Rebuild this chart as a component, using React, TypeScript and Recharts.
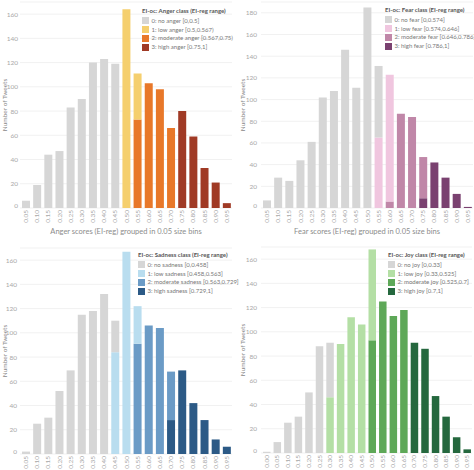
import { Bar, BarChart, CartesianGrid, Legend, XAxis, YAxis } from 'recharts'

// score bins, 0.05 wide
const bins = ['0.05', '0.10', '0.15', '0.20', '0.25', '0.30', '0.35', '0.40', '0.45', '0.50', '0.55', '0.60', '0.65', '0.70', '0.75', '0.80', '0.85', '0.90', '0.95']
const joyBins = ['0.00', '0.05', '0.10', '0.15', '0.20', '0.25', '0.30', '0.35', '0.40', '0.45', '0.50', '0.55', '0.60', '0.65', '0.70', '0.75', '0.80', '0.85', '0.90', '0.95']

const ticks170 = [0, 20, 40, 60, 80, 100, 120, 140, 160]
const ticks190 = [0, 20, 40, 60, 80, 100, 120, 140, 160, 180]

// tweet counts per bin, one list per ordinal class
const angerNo = [6, 19, 44, 47, 83, 90, 120, 123, 119, 0, 0, 0, 0, 0, 0, 0, 0, 0, 0]
const angerLow = [0, 0, 0, 0, 0, 0, 0, 0, 0, 164, 38, 0, 0, 0, 0, 0, 0, 0, 0]
const angerModerate = [0, 0, 0, 0, 0, 0, 0, 0, 0, 0, 73, 103, 98, 66, 0, 0, 0, 0, 0]
const angerHigh = [0, 0, 0, 0, 0, 0, 0, 0, 0, 0, 0, 0, 0, 0, 80, 59, 33, 21, 4]

const fearNo = [7, 28, 25, 44, 61, 102, 108, 146, 111, 185, 66, 0, 0, 0, 0, 0, 0, 0, 0]
const fearLow = [0, 0, 0, 0, 0, 0, 0, 0, 0, 0, 65, 117, 0, 0, 0, 0, 0, 0, 0]
const fearModerate = [0, 0, 0, 0, 0, 0, 0, 0, 0, 0, 0, 6, 87, 84, 38, 0, 0, 0, 0]
const fearHigh = [0, 0, 0, 0, 0, 0, 0, 0, 0, 0, 0, 0, 0, 0, 9, 42, 28, 13, 1]

const sadnessNo = [2, 25, 30, 52, 69, 115, 118, 132, 26, 0, 0, 0, 0, 0, 0, 0, 0, 0, 0]
const sadnessLow = [0, 0, 0, 0, 0, 0, 0, 0, 84, 167, 31, 0, 0, 0, 0, 0, 0, 0, 0]
const sadnessModerate = [0, 0, 0, 0, 0, 0, 0, 0, 0, 0, 91, 106, 104, 40, 0, 0, 0, 0, 0]
const sadnessHigh = [0, 0, 0, 0, 0, 0, 0, 0, 0, 0, 0, 0, 0, 28, 69, 42, 28, 12, 6]

const joyNo = [1, 9, 25, 30, 50, 88, 45, 0, 0, 0, 0, 0, 0, 0, 0, 0, 0, 0, 0, 0]
const joyLow = [0, 0, 0, 0, 0, 0, 46, 90, 112, 106, 75, 0, 0, 0, 0, 0, 0, 0, 0, 0]
const joyModerate = [0, 0, 0, 0, 0, 0, 0, 0, 0, 0, 93, 125, 113, 118, 0, 0, 0, 0, 0, 0]
const joyHigh = [0, 0, 0, 0, 0, 0, 0, 0, 0, 0, 0, 0, 0, 0, 91, 86, 47, 30, 13, 3]

const angerLabels = ['0: no anger [0,0.5]', '1: low anger [0.5,0.567)', '2: moderate anger [0.567,0.75)', '3: high anger [0.75,1]']
const fearLabels = ['0: no fear [0,0.574]', '1: low fear [0.574,0.646]', '2: moderate fear [0.646,0.786]', '3: high fear [0.786,1]']
const sadnessLabels = ['0: no sadness [0,0.458]', '1: low sadness [0.458,0.563]', '2: moderate sadness [0.563,0.729]', '3: high sadness [0.729,1]']
const joyLabels = ['0: no joy [0,0.33]', '1: low joy [0.33,0.525]', '2: moderate joy [0.525,0.7]', '3: high joy [0.7,1]']

const GRAY = '#d6d6d6'
const FONT = 'Lato, "Open Sans", sans-serif'

type PanelProps = {
  left: number
  top: number
  height: number
  bins: string[]
  classes: number[][]
  labels: string[]
  colors: string[]
  legendTitle: string
  legendLeft: number
  legendTop: number
  xTitle?: string
  yMax: number
  yTicks: number[]
  yWidth: number
  yTickMargin: number
  yTitleX: number
  marginRight: number
  barSize: number
}

function XTick({ x, y, payload }: any) {
  return (
    <text
      x={x}
      y={y}
      transform={`rotate(-90 ${x} ${y})`}
      textAnchor="end"
      dominantBaseline="central"
      fontSize={6.5}
      fill="#a8a8a8"
      fontFamily={FONT}
    >
      {payload.value}
    </text>
  )
}

function YTick({ x, y, payload }: any) {
  return (
    <text
      x={x}
      y={payload.value === 0 ? y - 3 : y}
      textAnchor="end"
      dominantBaseline="central"
      fontSize={6.5}
      fill="#a8a8a8"
      fontFamily={FONT}
    >
      {payload.value}
    </text>
  )
}

function YTitle({ viewBox, x0 }: any) {
  const cy = viewBox.y + viewBox.height / 2
  return (
    <text
      x={x0}
      y={cy}
      transform={`rotate(-90 ${x0} ${cy})`}
      textAnchor="middle"
      dominantBaseline="central"
      fontSize={6.5}
      fill="#888"
      fontFamily={FONT}
    >
      Number of Tweets
    </text>
  )
}

function Panel(p: PanelProps) {
  const rows = p.bins.map((bin, i) => ({
    bin,
    c0: p.classes[0][i],
    c1: p.classes[1][i],
    c2: p.classes[2][i],
    c3: p.classes[3][i]
  }))
  const xHeight = p.height - 2 - 206

  const legend = () => (
    <div style={{ fontFamily: FONT, lineHeight: 1 }}>
      <div style={{ fontSize: 6, fontWeight: 700, color: '#555', marginBottom: 2.5 }}>{p.legendTitle}</div>
      {p.labels.map((label, i) => (
        <div key={label} style={{ display: 'flex', alignItems: 'center', height: 8.8 }}>
          <span style={{ width: 7, height: 7, background: p.colors[i], marginRight: 2.5, flexShrink: 0 }} />
          <span style={{ fontSize: 6, color: '#777', whiteSpace: 'nowrap' }}>{label}</span>
        </div>
      ))}
    </div>
  )

  return (
    <div style={{ position: 'absolute', left: p.left, top: p.top }}>
      <BarChart
        width={237}
        height={p.height}
        data={rows}
        margin={{ top: 2, right: p.marginRight, left: 0, bottom: 0 }}
        barSize={p.barSize}
      >
        <CartesianGrid vertical={false} stroke="#f1f1f1" />
        <XAxis
          dataKey="bin"
          interval={0}
          axisLine={false}
          tickLine={false}
          tickSize={0}
          tickMargin={2}
          height={xHeight}
          tick={<XTick />}
          label={
            p.xTitle
              ? { value: p.xTitle, position: 'insideBottom', offset: 11, fontSize: 7.5, fill: '#8c8c8c', fontFamily: FONT }
              : undefined
          }
        />
        <YAxis
          domain={[0, p.yMax]}
          ticks={p.yTicks}
          interval={0}
          axisLine={false}
          tickLine={false}
          tickSize={0}
          tickMargin={p.yTickMargin}
          width={p.yWidth}
          tick={<YTick />}
          label={<YTitle x0={p.yTitleX} />}
        />
        <Legend
          layout="vertical"
          align="center"
          verticalAlign="middle"
          content={legend}
          wrapperStyle={{ left: p.legendLeft, top: p.legendTop, width: 100 }}
        />
        <Bar dataKey="c3" stackId="a" fill={p.colors[3]} isAnimationActive={false} />
        <Bar dataKey="c2" stackId="a" fill={p.colors[2]} isAnimationActive={false} />
        <Bar dataKey="c1" stackId="a" fill={p.colors[1]} isAnimationActive={false} />
        <Bar dataKey="c0" stackId="a" fill={p.colors[0]} isAnimationActive={false} />
      </BarChart>
    </div>
  )
}

export default function App() {
  return (
    <div style={{ position: 'absolute', left: 0, top: 0, width: 474, height: 470, overflow: 'hidden', background: '#fff' }}>
      <Panel
        left={0}
        top={0}
        height={245}
        bins={bins}
        classes={[angerNo, angerLow, angerModerate, angerHigh]}
        labels={angerLabels}
        colors={[GRAY, '#f5cf6e', '#e8782a', '#a03a25']}
        legendTitle="EI-oc: Anger class (EI-reg range)"
        legendLeft={142}
        legendTop={8}
        xTitle="Anger scores  (EI-reg) grouped in 0.05 size bins"
        yMax={170}
        yTicks={ticks170}
        yWidth={20}
        yTickMargin={2}
        yTitleX={4}
        marginRight={5}
        barSize={8}
      />
      <Panel
        left={237}
        top={0}
        height={245}
        bins={bins}
        classes={[fearNo, fearLow, fearModerate, fearHigh]}
        labels={fearLabels}
        colors={[GRAY, '#f0c6df', '#c087a8', '#7a4170']}
        legendTitle="EI-oc: Fear class (EI-reg range)"
        legendLeft={148}
        legendTop={7}
        xTitle="Fear scores  (EI-reg) grouped in 0.05 size bins"
        yMax={190}
        yTicks={ticks190}
        yWidth={24}
        yTickMargin={4}
        yTitleX={5}
        marginRight={1}
        barSize={8}
      />
      <Panel
        left={0}
        top={246}
        height={224}
        bins={bins}
        classes={[sadnessNo, sadnessLow, sadnessModerate, sadnessHigh]}
        labels={sadnessLabels}
        colors={[GRAY, '#b9ddef', '#6b9bc6', '#2c5a86']}
        legendTitle="EI-oc: Sadness class (EI-reg range)"
        legendLeft={138}
        legendTop={6}
        yMax={170}
        yTicks={ticks170}
        yWidth={20}
        yTickMargin={3}
        yTitleX={4}
        marginRight={5}
        barSize={8}
      />
      <Panel
        left={237}
        top={245}
        height={225}
        bins={joyBins}
        classes={[joyNo, joyLow, joyModerate, joyHigh]}
        labels={joyLabels}
        colors={[GRAY, '#b4dfa5', '#5ea858', '#25683e']}
        legendTitle="EI-oc: Joy class (EI-reg range)"
        legendLeft={151}
        legendTop={7}
        yMax={170}
        yTicks={ticks170}
        yWidth={24}
        yTickMargin={4}
        yTitleX={5}
        marginRight={2}
        barSize={7.5}
      />
    </div>
  )
}
